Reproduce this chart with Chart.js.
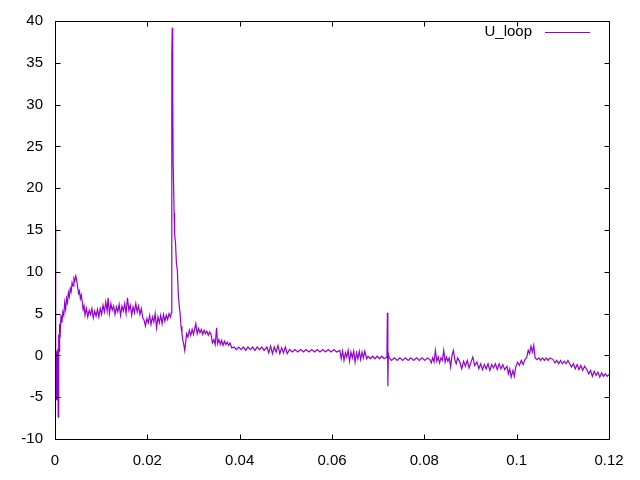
<!DOCTYPE html>
<html>
<head>
<meta charset="utf-8">
<script src="https://cdn.jsdelivr.net/npm/chart.js@4"></script>
<style>
  body { margin: 0; background: #fff; }
</style>
</head>
<body>
<canvas id="uloopChart" width="640" height="480"></canvas>
<script>
// time in ms
const timeMs = [
  0, 0.1, 0.2, 0.3, 0.4, 0.5, 0.6, 0.7, 0.8, 0.9, 1.0, 1.1, 1.3, 1.5, 1.7, 1.9, 2.1, 2.3, 2.5, 2.7,
  2.9, 3.1, 3.3, 3.5, 3.7, 3.9, 4.1, 4.3, 4.5, 4.7, 4.9, 5.1, 5.3, 5.5, 5.7, 5.9, 6.1, 6.3, 6.5,
  6.8, 7.1, 7.4, 7.7, 8.0, 8.3, 8.6, 8.9, 9.2, 9.5, 9.8, 10.1, 10.4, 10.7, 11.0, 11.3, 11.5, 11.8,
  12.1, 12.4, 12.7, 13.0, 13.3, 13.6, 13.9, 14.2, 14.5, 14.8, 15.1, 15.4, 15.7, 16.0, 16.3, 16.6,
  16.9, 17.2, 17.5, 17.8, 18.1, 18.4, 18.7, 19.0, 19.3, 19.6, 19.9, 20.2, 20.5, 20.8, 21.1, 21.4,
  21.7, 22.0, 22.3, 22.6, 22.9, 23.2, 23.5, 23.8, 24.1, 24.4, 24.7, 25.0, 25.2,
  25.3, 25.4, 25.5, 25.6, 25.8, 25.9, 26.1, 26.3, 26.5, 26.7, 26.9, 27.1, 27.3, 27.5, 27.7, 27.9, 28.1,
  28.3, 28.5, 28.8, 29.1, 29.4, 29.7, 30.0, 30.3, 30.5, 30.8, 31.1, 31.4, 31.7, 32.0, 32.3, 32.6,
  32.9, 33.2, 33.5, 33.8, 34.1, 34.4, 34.7, 35.0, 35.2, 35.5, 35.8, 36.1, 36.4, 36.7, 37.0, 37.3,
  37.6, 37.9, 38.3,
  38.8, 39.3, 39.8, 40.3, 40.8, 41.3, 41.8, 42.3, 42.8, 43.3, 43.8, 44.3, 44.8, 45.3, 45.9,
  46.3, 46.7, 47.1, 47.5, 47.9, 48.3, 48.7, 49.1, 49.5, 49.9, 50.3, 50.8,
  51.4, 52.0, 52.6, 53.2, 53.8, 54.4, 55.0, 55.6, 56.2, 56.8, 57.4, 58.0, 58.6, 59.2, 59.8, 60.4,
  61.0, 61.7,
  62.0, 62.3, 62.6, 62.9, 63.2, 63.5, 63.8, 64.1, 64.4, 64.7, 65.0, 65.3, 65.6, 65.9, 66.2, 66.5,
  66.8, 67.1, 67.5, 67.8,
  68.3, 68.8, 69.3, 69.8, 70.3, 70.8, 71.3, 71.9, 72.0, 72.1, 72.2, 72.4,
  72.9, 73.5, 74.1, 74.7, 75.3, 75.9, 76.5, 77.1, 77.7, 78.3, 78.9, 79.5, 80.1, 80.7, 81.2,
  81.5, 81.8, 82.1, 82.4, 82.7, 83.0, 83.3, 83.6, 83.9, 84.2, 84.5, 84.8, 85.1, 85.4, 85.7, 86.0,
  86.3, 86.6, 86.9, 87.2, 87.7,
  88.1, 88.5, 88.9, 89.3, 89.7, 90.1, 90.5, 90.9, 91.4,
  91.8, 92.2, 92.6, 93.0, 93.4, 93.8, 94.2, 94.6, 95.0, 95.4, 95.8, 96.2, 96.6, 97.0, 97.4, 97.9,
  98.2, 98.5, 98.8, 99.2, 99.5, 99.8, 100.2, 100.6, 101.0, 101.4, 101.8, 102.2, 102.5, 102.8, 103.1,
  103.4, 103.7, 104.0, 104.4,
  104.8, 105.2, 105.6, 106.0, 106.4, 106.8, 107.2, 107.9,
  108.3, 108.7, 109.1, 109.5, 109.9, 110.3, 110.7, 111.1, 111.5,
  111.9, 112.3, 112.7, 113.1, 113.5, 113.9, 114.3, 114.7, 115.2,
  115.6, 116.0, 116.4, 116.8, 117.2, 117.6, 118.0, 118.4, 118.8, 119.2, 119.6, 120.0
];

const uLoop = [
  15.5, -4.2, 0.8, -5.3, 0.5, -3.5, 0.8, -7.4, 2.5, 0.5, 3.8, 2.1, 4.8, 3.9, 5.2, 4.8, 6.3, 5.5, 6.8, 6.3,
  7.5, 7.0, 8.0, 7.6, 8.7, 8.3, 9.2, 8.9, 9.5, 9.0, 8.2, 7.4, 7.7, 6.8, 7.2, 6.4, 5.5, 5.9, 4.8,
  5.6, 4.6, 5.4, 4.9, 5.6, 4.5, 5.3, 4.7, 5.5, 4.6, 5.6, 4.9, 6.0, 5.2, 6.4, 5.3, 6.9, 5.0,
  6.2, 5.4, 5.9, 4.9, 5.8, 5.2, 6.1, 4.8, 5.9, 5.3, 6.2, 5.0, 6.9, 5.4, 6.0, 4.8,
  5.8, 5.1, 6.2, 5.2, 5.9, 4.9, 5.6, 4.5, 4.2, 3.5, 4.4, 3.9, 4.8, 3.7, 4.6, 4.0,
  5.0, 3.3, 4.6, 3.9, 4.8, 3.8, 4.9, 4.1, 4.8, 4.3, 5.0, 4.6, 5.1,
  36.0, 39.2, 31.0, 22.9, 17.0, 14.5, 13.5, 11.0, 10.2, 7.4, 6.0, 5.0, 3.5, 2.6, 1.8, 1.3, 0.6,
  1.5, 2.6, 2.2, 3.0, 2.4, 3.1, 2.5, 3.3, 3.8, 2.6, 3.2, 2.7, 3.1, 2.5, 3.0, 2.6,
  2.9, 2.4, 2.8, 2.5, 1.5, 1.9, 1.3, 3.3, 1.4, 1.9, 1.3, 1.8, 1.2, 1.7, 1.3, 1.6,
  1.2, 1.5, 0.9,
  1.0, 0.7, 1.0, 0.7, 1.0, 0.6, 1.0, 0.7, 1.0, 0.6, 1.0, 0.7, 1.0, 0.6, 1.0,
  0.3, 1.1, 0.2, 1.0, 0.4, 1.2, 0.2, 0.9, 0.3, 1.0, 0.2, 0.7,
  0.4, 0.7, 0.4, 0.7, 0.4, 0.7, 0.4, 0.7, 0.4, 0.7, 0.4, 0.7, 0.4, 0.7, 0.4, 0.7,
  0.4, 0.6,
  -0.4, 0.5, -0.6, 0.3, -0.2, 0.6, -0.7, 0.4, -0.3, 0.5, -0.8, 0.3, -0.4, 0.5, -0.5, 0.4,
  -0.3, 0.5, -0.4, -0.1,
  -0.4, -0.1, -0.4, -0.1, -0.4, -0.1, -0.4, -0.2, 5.1, -3.7, 0.2, -0.3,
  -0.6, -0.3, -0.6, -0.3, -0.6, -0.3, -0.6, -0.3, -0.6, -0.3, -0.6, -0.3, -0.6, -0.3, -0.5,
  -0.9, -0.3, -0.8, 0.6, -0.7, -0.2, -0.9, -0.3, -0.6, 0.6, -0.8, -0.2, -0.7, -0.3, -1.4, 0.0,
  0.6, -0.5, -1.0, -0.3, -0.8,
  -1.6, -0.7, -1.3, -0.6, -1.5, -0.8, -0.2, -1.2, -0.8,
  -1.6, -1.0, -1.7, -1.1, -1.6, -1.0, -1.8, -1.1, -1.5, -1.0, -1.7, -1.0, -1.6, -1.1, -1.7, -1.3,
  -2.2, -1.6, -2.6, -1.8, -2.5, -1.4, -0.8, -1.2, -0.6, -1.1, -0.5, -0.2, 0.6, 0.2, 1.1,
  0.4, 1.2, -0.3, -0.5,
  -0.3, -0.6, -0.3, -0.6, -0.3, -0.6, -0.3, -0.5,
  -0.9, -0.6, -1.0, -0.6, -1.0, -0.7, -1.0, -0.6, -1.0,
  -1.4, -1.0, -1.6, -1.1, -1.7, -1.2, -1.8, -1.3, -1.7,
  -2.2, -1.8, -2.5, -1.9, -2.4, -2.0, -2.6, -2.1, -2.5, -2.2, -2.5, -2.3
];

const xTicks = [0, 0.02, 0.04, 0.06, 0.08, 0.1, 0.12];
const yTicks = [-10, -5, 0, 5, 10, 15, 20, 25, 30, 35, 40];
const seriesLabel = "U_loop";
const lineColor = "#9400d3";
const tickFont = { family: "'Liberation Sans', Arial, sans-serif", size: 15 };

// gnuplot-like frame with inward ticks on all four sides + key
const gnuplotFrame = {
  id: "gnuplotFrame",
  afterDraw(chart) {
    const { ctx, chartArea: { left, right, top, bottom }, scales: { x, y } } = chart;
    const tl = 5;
    ctx.save();
    ctx.strokeStyle = "#000";
    ctx.lineWidth = 1;
    ctx.strokeRect(left + 0.5, top + 0.5, right - left, bottom - top);
    ctx.beginPath();
    xTicks.forEach((v) => {
      const px = Math.round(x.getPixelForValue(v)) + 0.5;
      ctx.moveTo(px, bottom + 0.5);
      ctx.lineTo(px, bottom + 0.5 - tl);
      ctx.moveTo(px, top + 0.5);
      ctx.lineTo(px, top + 0.5 + tl);
    });
    yTicks.forEach((v) => {
      const py = Math.round(y.getPixelForValue(v)) + 0.5;
      ctx.moveTo(left + 0.5, py);
      ctx.lineTo(left + 0.5 + tl, py);
      ctx.moveTo(right + 0.5, py);
      ctx.lineTo(right + 0.5 - tl, py);
    });
    ctx.stroke();

    // key
    ctx.font = "15px " + tickFont.family;
    ctx.fillStyle = "#000";
    ctx.textAlign = "right";
    ctx.textBaseline = "middle";
    ctx.fillText(seriesLabel, 532, 32);
    ctx.strokeStyle = lineColor;
    ctx.beginPath();
    ctx.moveTo(545, 32.5);
    ctx.lineTo(590, 32.5);
    ctx.stroke();
    ctx.restore();
  },
};

const ctx = document.getElementById("uloopChart");
new Chart(ctx, {
  type: "line",
  data: {
    datasets: [
      {
        label: seriesLabel,
        data: timeMs.map((t, i) => ({ x: t / 1000, y: uLoop[i] })),
        borderColor: lineColor,
        borderWidth: 1.2,
        pointRadius: 0,
        tension: 0,
        fill: false,
      },
    ],
  },
  options: {
    responsive: false,
    animation: false,
    layout: { padding: { top: 19, right: 31, left: 0, bottom: 0 } },
    scales: {
      x: {
        type: "linear",
        min: 0,
        max: 0.12,
        afterBuildTicks: (scale) => { scale.ticks = xTicks.map((v) => ({ value: v })); },
        afterFit: (scale) => { scale.height = 41; },
        grid: { display: false, drawTicks: false },
        border: { display: false },
        ticks: {
          color: "#000",
          font: tickFont,
          padding: 13,
          maxRotation: 0,
          autoSkip: false,
          callback: (v) => String(+Number(v).toFixed(4)),
        },
      },
      y: {
        type: "linear",
        min: -10,
        max: 40,
        afterBuildTicks: (scale) => { scale.ticks = yTicks.map((v) => ({ value: v })); },
        afterFit: (scale) => { scale.width = 55; },
        grid: { display: false, drawTicks: false },
        border: { display: false },
        ticks: {
          color: "#000",
          font: tickFont,
          padding: 12,
          autoSkip: false,
          callback: (v) => String(v),
        },
      },
    },
    plugins: {
      legend: { display: false },
      tooltip: { enabled: false },
    },
  },
  plugins: [gnuplotFrame],
});
</script>
</body>
</html>
